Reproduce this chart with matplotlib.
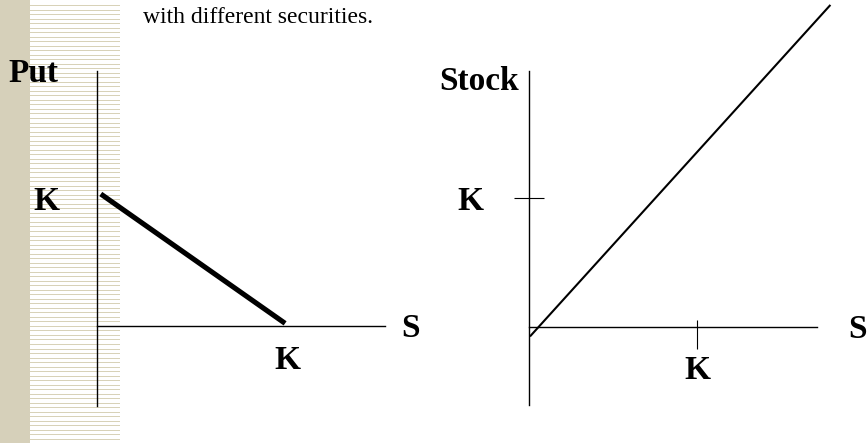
import numpy as np
import matplotlib
matplotlib.use("Agg")
import matplotlib.pyplot as plt
from matplotlib.patches import Rectangle

# ---- data (units of strike K) ----
strike_label = "K"
put_S = [0.02, 0.99]
put_value = [1.0, 0.02]
stock_S = [0.01, 1.79]
stock_value = [-0.07, 2.50]
put_title = "Put"
stock_title = "Stock"
x_name = "S"
caption = "with different securities."

W, H = 868, 443
DPI = 100
fig = plt.figure(figsize=(W / DPI, H / DPI), dpi=DPI)
fig.patch.set_facecolor("white")

serif = ["Liberation Serif", "DejaVu Serif"]
FS = 24

# ---- decorative left strip ----
bg = fig.add_axes([0, 0, 1, 1], zorder=0)
bg.set_xlim(0, W)
bg.set_ylim(H, 0)
bg.axis("off")
bg.add_patch(Rectangle((0, 0), 30, H, color="#D6D0BA", lw=0))
stripe_y = np.round(4 + 4.52 * np.arange(0, 97)) + 0.5
for yy in stripe_y:
    if yy > 440:
        continue
    bg.plot([30, 119], [yy, yy], color="#D8D2B8", lw=0.72,
            solid_capstyle="butt", antialiased=False)

fig.text(143 / W, 1 - 23 / H, caption, fontsize=17, family=serif,
         va="baseline", ha="left", color="black")


def setup(ax):
    ax.patch.set_alpha(0)
    for s in ("top", "right"):
        ax.spines[s].set_visible(False)
    ax.spines["bottom"].set_position(("data", 0))
    ax.spines["left"].set_position(("data", 0))
    for s in ("left", "bottom"):
        ax.spines[s].set_linewidth(1.0)
        ax.spines[s].set_color("black")


# ---- Put payoff ----
ax1 = fig.add_axes([97 / W, (H - 406) / H, 288 / W, 335 / H], zorder=2)
setup(ax1)
ax1.set_xlim(0, 288 / 190)
ax1.set_ylim(-80 / 132, 255 / 132)
ax1.plot(put_S, put_value, color="black", lw=3.7, solid_capstyle="butt",
         clip_on=False)
ax1.set_xticks([1])
ax1.set_xticklabels([strike_label])
ax1.set_yticks([])
ax1.tick_params(axis="x", length=0, pad=14)
for lab in ax1.get_xticklabels():
    lab.set_fontfamily(serif)
    lab.set_fontweight("bold")
    lab.set_fontsize(FS)
ax1.annotate(strike_label, xy=(0, 1), xycoords=("axes fraction", "data"),
             xytext=(-36.7, -11.5), textcoords="offset points",
             ha="center", va="baseline", fontsize=FS, fontweight="bold",
             family=serif, annotation_clip=False)
ax1.annotate(put_title, xy=(0, 1), xycoords="axes fraction",
             xytext=(-46, -7.7), textcoords="offset points",
             ha="center", va="baseline", fontsize=FS, fontweight="bold",
             family=serif, annotation_clip=False)
ax1.annotate(x_name, xy=(1, 0), xycoords=("axes fraction", "data"),
             xytext=(18.4, -7.9), textcoords="offset points",
             ha="center", va="baseline", fontsize=FS, fontweight="bold",
             family=serif, annotation_clip=False)

# ---- Stock payoff ----
ax2 = fig.add_axes([529 / W, (H - 405) / H, 288 / W, 334 / H], zorder=2)
setup(ax2)
ax2.set_xlim(0, 288 / 168)
ax2.set_ylim(-78.3 / 128.4, 255.7 / 128.4)
ax2.plot(stock_S, stock_value, color="black", lw=1.5, clip_on=False)
ax2.set_xticks([1])
ax2.set_xticklabels([strike_label])
ax2.set_xticks([1], minor=True)
ax2.xaxis.remove_overlapping_locs = False
ax2.set_yticks([1])
ax2.set_yticklabels([strike_label])
ax2.tick_params(axis="x", which="major", direction="out", length=15.6,
                width=0.8, pad=5)
ax2.tick_params(axis="x", which="minor", direction="in", length=5.3,
                width=0.8)
ax2.tick_params(axis="y", direction="inout", length=21.6, width=0.8, pad=22)
for lab in ax2.get_xticklabels() + ax2.get_yticklabels():
    lab.set_fontfamily(serif)
    lab.set_fontweight("bold")
    lab.set_fontsize(FS)
ax2.annotate(stock_title, xy=(0, 1), xycoords="axes fraction",
             xytext=(-35.6, -13.7), textcoords="offset points",
             ha="center", va="baseline", fontsize=FS, fontweight="bold",
             family=serif, annotation_clip=False)
ax2.annotate(x_name, xy=(1, 0), xycoords=("axes fraction", "data"),
             xytext=(29.5, -7.9), textcoords="offset points",
             ha="center", va="baseline", fontsize=FS, fontweight="bold",
             family=serif, annotation_clip=False)

fig.savefig("out.png", dpi=DPI)
